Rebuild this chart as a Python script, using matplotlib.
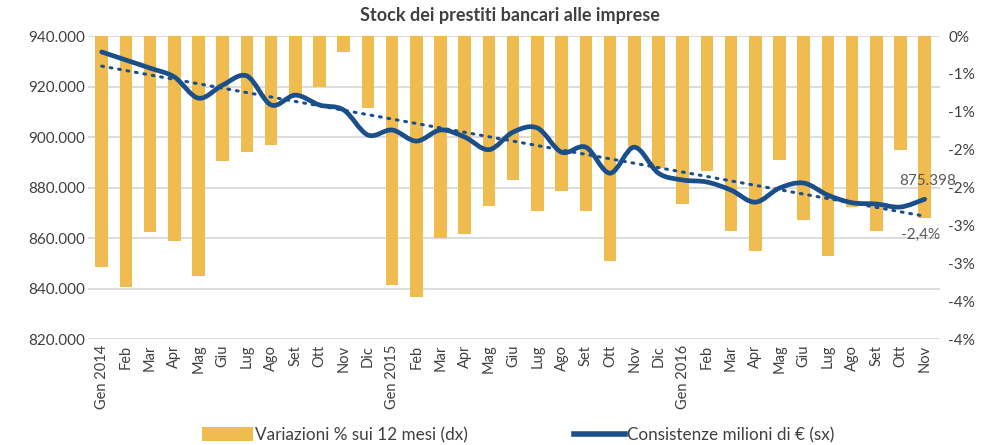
import numpy as np
import matplotlib
matplotlib.use("Agg")
import matplotlib.pyplot as plt
from matplotlib.path import Path
from matplotlib.patches import PathPatch, Patch
from matplotlib.lines import Line2D
from matplotlib.ticker import FuncFormatter

plt.rcParams['font.family'] = ['Lato', 'DejaVu Sans']

# -----------------------------
# Dati
# -----------------------------
mesi = ["Gen 2014", "Feb", "Mar", "Apr", "Mag", "Giu", "Lug", "Ago", "Set", "Ott", "Nov", "Dic",
        "Gen 2015", "Feb", "Mar", "Apr", "Mag", "Giu", "Lug", "Ago", "Set", "Ott", "Nov", "Dic",
        "Gen 2016", "Feb", "Mar", "Apr", "Mag", "Giu", "Lug", "Ago", "Set", "Ott", "Nov"]

# variazioni % sui 12 mesi (asse dx)
variazioni = [-3.05, -3.31, -2.59, -2.71, -3.17, -1.65, -1.53, -1.44, -0.78, -0.67, -0.21, -0.95,
              -3.29, -3.44, -2.66, -2.61, -2.24, -1.90, -2.31, -2.05, -2.31, -2.97, -1.47, -1.74,
              -2.22, -1.78, -2.57, -2.84, -1.63, -2.43, -2.90, -2.25, -2.57, -1.51, -2.40]

# consistenze milioni di euro (asse sx), in migliaia
consistenze = [933.7, 930.5, 927.3, 923.8, 915.4, 920.6, 924.2, 912.7, 916.6, 912.7, 910.7, 900.8,
               902.8, 898.4, 902.8, 900.0, 895.0, 902.0, 903.6, 894.0, 896.0, 885.7, 896.0, 885.7,
               883.0, 882.2, 879.0, 874.2, 879.8, 881.8, 877.0, 874.0, 873.5, 872.3, 875.398]

yticks_sx = [820, 840, 860, 880, 900, 920, 940]
yticks_dx = [0, -0.5, -1, -1.5, -2, -2.5, -3, -3.5, -4]
ylabels_dx = ["0%", "-1%", "-1%", "-2%", "-2%", "-3%", "-3%", "-4%", "-4%"]

giallo = "#F0BC4F"
blu = "#1B4F8A"
grigio = "#404040"

x = np.arange(len(mesi))
y = np.array(consistenze) * 1000

# -----------------------------
# Plot
# -----------------------------
fig = plt.figure(figsize=(9.85, 4.45), dpi=100)
ax2 = fig.add_axes([0.089, 0.238, 0.865, 0.681])   # barre (dx)
ax = ax2.twinx()                                     # linea (sx)
ax.yaxis.tick_left()
ax2.yaxis.tick_right()
ax.set_zorder(ax2.get_zorder() + 1)
ax.patch.set_visible(False)

ax2.set_ylim(-4, 0)
ax.set_ylim(820000, 940000)
ax2.set_xlim(-0.58, 34.62)

# griglia dietro le barre
for v in yticks_sx:
    ax2.axhline(-4 + (v - 820) / 120 * 4, color="#D9D9D9", lw=1.3, zorder=0)

ax2.bar(x, variazioni, width=0.52, color=giallo, zorder=2)

# linea smussata (curve di Bezier tipo Excel)
pts = np.column_stack([x, y])
verts = [pts[0]]
codes = [Path.MOVETO]
for i in range(len(pts) - 1):
    p0 = pts[i - 1] if i > 0 else pts[i]
    p1 = pts[i]
    p2 = pts[i + 1]
    p3 = pts[i + 2] if i + 2 < len(pts) else pts[i + 1]
    verts += [p1 + (p2 - p0) / 6, p2 - (p3 - p1) / 6, p2]
    codes += [Path.CURVE4] * 3
ax.add_patch(PathPatch(Path(verts, codes), facecolor="none", edgecolor=blu, lw=3.4,
                       capstyle="round", joinstyle="round", zorder=3))

# linea di tendenza
coef = np.polyfit(x, y, 1)
ax.plot(x, np.polyval(coef, x), color=blu, lw=2.2, ls=(0, (0.6, 2.2)),
        dash_capstyle="round", zorder=2)

# etichette
ax.annotate("875.398", (x[-1], y[-1]), xytext=(2, 13), textcoords="offset points",
            ha="center", va="center", fontsize=11, color="#595959")
ax2.annotate("-2,4%", (x[-1], variazioni[-1]), xytext=(-3, -12), textcoords="offset points",
             ha="center", va="center", fontsize=11, color="#595959")

# assi
ax.set_yticks([v * 1000 for v in yticks_sx])
ax.yaxis.set_major_formatter(FuncFormatter(lambda v, p: f"{int(v):,}".replace(",", ".")))
ax2.set_yticks(yticks_dx)
ax2.set_yticklabels(ylabels_dx)
ax2.set_xticks(x)
ax2.set_xticklabels(mesi, rotation=90, fontsize=10.5, color=grigio)
ax.tick_params(axis="y", length=0, labelsize=11, labelcolor=grigio, pad=2)
ax2.tick_params(axis="y", length=0, labelsize=11, labelcolor=grigio, pad=6)
ax2.tick_params(axis="x", length=0, pad=4)
for a in (ax, ax2):
    for s in a.spines.values():
        s.set_visible(False)

fig.suptitle("Stock dei prestiti bancari alle imprese", x=0.518, y=0.985,
             fontsize=13, fontweight="bold", color=grigio)

handles = [Patch(facecolor=giallo), Line2D([0], [0], color=blu, lw=4)]
fig.legend(handles, ["Variazioni % sui 12 mesi (dx)", "Consistenze milioni di € (sx)"],
           loc="center", bbox_to_anchor=(0.526, 0.022), ncol=2, frameon=False,
           fontsize=12.3, handlelength=3.0, handleheight=0.9, columnspacing=6.2,
           handletextpad=0.12, labelcolor=grigio, borderpad=0.1)

fig.savefig("out.png", dpi=100)
